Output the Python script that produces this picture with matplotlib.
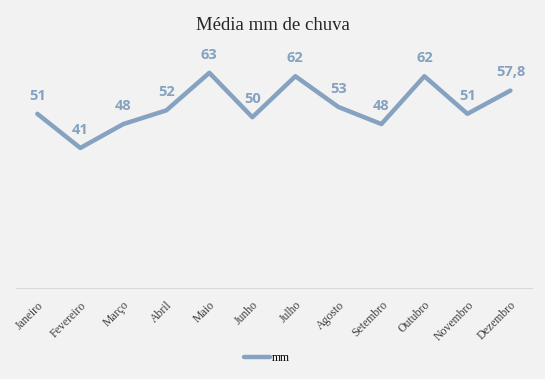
import matplotlib
matplotlib.use('Agg')
import matplotlib.pyplot as plt

meses = ['Janeiro', 'Fevereiro', 'Março', 'Abril', 'Maio', 'Junho',
         'Julho', 'Agosto', 'Setembro', 'Outubro', 'Novembro', 'Dezembro']
mm = [51, 41, 48, 52, 63, 50, 62, 53, 48, 62, 51, 57.8]
rotulos = ['51', '41', '48', '52', '63', '50', '62', '53', '48', '62', '51', '57,8']

cor = '#85a2c0'
fundo = '#f2f2f2'

fig = plt.figure(figsize=(5.45, 3.79), dpi=100, facecolor=fundo)
ax = fig.add_axes([0.029, 0.24, 0.947, 0.631], facecolor=fundo)

x = range(len(meses))
linha, = ax.plot(x, mm, color=cor, linewidth=3.2, solid_capstyle='round',
                 solid_joinstyle='round', label='mm')

# rótulos de dados
for xi, v, r in zip(x, mm, rotulos):
    ax.annotate(r, (xi, v), xytext=(0, 8), textcoords='offset points',
                ha='center', va='bottom', fontsize=10.5, fontweight='bold',
                color=cor, family='Open Sans')

ax.set_xlim(-0.5, len(meses) - 0.5)
ax.set_ylim(0, 70)
ax.set_yticks([])
ax.set_xticks(list(x))
ax.set_xticklabels(meses, rotation=45, ha='right', rotation_mode='anchor',
                   fontsize=8.5, family='Liberation Serif', color='#404040')
ax.tick_params(axis='x', length=0, pad=8)

for lado in ['top', 'right', 'left']:
    ax.spines[lado].set_visible(False)
ax.spines['bottom'].set_color('#d9d9d9')

fig.suptitle('Média mm de chuva', y=0.955, fontsize=13.5,
             family='Liberation Serif', color='#262626')

fig.legend(handles=[linha], loc='center', bbox_to_anchor=(0.49, 0.055),
           frameon=False, prop={'family': 'Liberation Serif', 'size': 8.5},
           handlelength=2.2, handletextpad=0.2)

fig.savefig('out.png', dpi=100, facecolor=fundo)
